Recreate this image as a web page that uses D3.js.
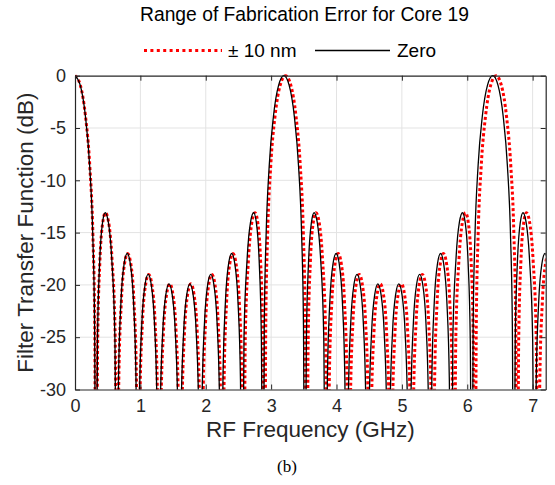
<!DOCTYPE html>
<html>
<head>
<meta charset="utf-8">
<script src="https://cdn.jsdelivr.net/npm/d3@7"></script>
<style>
  body { margin: 0; background: #fff; }
  svg { display: block; font-family: Arial, "Liberation Sans", sans-serif; }
</style>
</head>
<body>
<svg width="555" height="485"></svg>
<script>
// axis ticks
const xTicks = [0, 1, 2, 3, 4, 5, 6, 7]
const yTicks = [-30, -25, -20, -15, -10, -5, 0]

// zero fabrication error, [GHz, dB]
const zeroCurve = [
  [0, 0], [0.080, -0.9], [0.160, -3.9], [0.224, -8.6], [0.272, -15.3], [0.300, -23.9], [0.3195, -50],
  [0.344, -25.2], [0.378, -17.7], [0.420, -14.1], [0.462, -13.1], [0.510, -14.0], [0.562, -17.5], [0.610, -25.0], [0.639, -50],
  [0.665, -29.1], [0.703, -21.6], [0.751, -18.0], [0.799, -17.0], [0.847, -18.0], [0.895, -21.6], [0.933, -29.1], [0.9585, -50],
  [0.985, -31.1], [1.023, -23.6], [1.071, -20.0], [1.119, -19.0], [1.167, -20.0], [1.215, -23.6], [1.253, -31.1], [1.278, -50],
  [1.304, -32.0], [1.342, -24.5], [1.390, -20.9], [1.438, -19.9], [1.486, -20.9], [1.534, -24.5], [1.572, -32.0], [1.5975, -50],
  [1.624, -32.0], [1.662, -24.5], [1.710, -20.9], [1.758, -19.9], [1.806, -20.9], [1.854, -24.5], [1.892, -32.0], [1.917, -50],
  [1.943, -31.1], [1.981, -23.6], [2.029, -20.0], [2.077, -19.0], [2.125, -20.0], [2.173, -23.6], [2.211, -31.1], [2.2365, -50],
  [2.263, -29.1], [2.301, -21.6], [2.349, -18.0], [2.397, -17.0], [2.445, -18.0], [2.493, -21.6], [2.531, -29.1], [2.556, -50],
  [2.585, -25.0], [2.633, -17.5], [2.685, -14.0], [2.733, -13.1], [2.775, -14.1], [2.817, -17.7], [2.851, -25.2], [2.8755, -50],
  [2.895, -23.9], [2.923, -15.3], [2.971, -8.6], [3.035, -3.9], [3.115, -0.9], [3.195, 0], [3.275, -0.9], [3.355, -3.9], [3.419, -8.6], [3.467, -15.3], [3.495, -23.9], [3.5145, -50],
  [3.539, -25.2], [3.573, -17.7], [3.615, -14.1], [3.657, -13.1], [3.705, -14.0], [3.757, -17.5], [3.805, -25.0], [3.834, -50],
  [3.860, -29.1], [3.898, -21.6], [3.946, -18.0], [3.994, -17.0], [4.042, -18.0], [4.090, -21.6], [4.128, -29.1], [4.1535, -50],
  [4.180, -31.1], [4.218, -23.6], [4.266, -20.0], [4.314, -19.0], [4.362, -20.0], [4.410, -23.6], [4.448, -31.1], [4.473, -50],
  [4.499, -32.0], [4.537, -24.5], [4.585, -20.9], [4.633, -19.9], [4.681, -20.9], [4.729, -24.5], [4.767, -32.0], [4.7925, -50],
  [4.819, -32.0], [4.857, -24.5], [4.905, -20.9], [4.953, -19.9], [5.001, -20.9], [5.049, -24.5], [5.087, -32.0], [5.112, -50],
  [5.138, -31.1], [5.176, -23.6], [5.224, -20.0], [5.272, -19.0], [5.320, -20.0], [5.368, -23.6], [5.406, -31.1], [5.4315, -50],
  [5.458, -29.1], [5.496, -21.6], [5.544, -18.0], [5.592, -17.0], [5.640, -18.0], [5.688, -21.6], [5.726, -29.1], [5.751, -50],
  [5.780, -25.0], [5.828, -17.5], [5.880, -14.0], [5.928, -13.1], [5.970, -14.1], [6.012, -17.7], [6.046, -25.2], [6.0705, -50],
  [6.090, -23.9], [6.118, -15.3], [6.166, -8.6], [6.230, -3.9], [6.310, -0.9], [6.390, 0], [6.470, -0.9], [6.550, -3.9], [6.614, -8.6], [6.662, -15.3], [6.690, -23.9], [6.7095, -50],
  [6.734, -25.2], [6.768, -17.7], [6.810, -14.1], [6.852, -13.1], [6.900, -14.0], [6.952, -17.5], [7.000, -25.0], [7.029, -50],
  [7.055, -29.1], [7.093, -21.6], [7.141, -18.0], [7.189, -17.0], [7.237, -18.0], [7.285, -21.6]
]

// +-10 nm fabrication error, [GHz, dB]
const errCurve = [
  [0, 0], [0.081, -0.9], [0.161, -3.9], [0.226, -8.6], [0.274, -15.3], [0.302, -23.9], [0.322, -50],
  [0.347, -25.2], [0.381, -17.7], [0.423, -14.1], [0.466, -13.1], [0.514, -14.0], [0.566, -17.5], [0.615, -25.0], [0.644, -50],
  [0.670, -29.1], [0.709, -21.6], [0.757, -18.0], [0.805, -17.0], [0.854, -18.0], [0.902, -21.6], [0.940, -29.1], [0.966, -50],
  [0.993, -31.1], [1.031, -23.6], [1.079, -20.0], [1.128, -19.0], [1.176, -20.0], [1.225, -23.6], [1.263, -31.1], [1.288, -50],
  [1.314, -32.0], [1.353, -24.5], [1.401, -20.9], [1.449, -19.9], [1.498, -20.9], [1.546, -24.5], [1.584, -32.0], [1.610, -50],
  [1.637, -32.0], [1.675, -24.5], [1.723, -20.9], [1.772, -19.9], [1.820, -20.9], [1.869, -24.5], [1.907, -32.0], [1.932, -50],
  [1.958, -31.1], [1.997, -23.6], [2.045, -20.0], [2.093, -19.0], [2.142, -20.0], [2.190, -23.6], [2.228, -31.1], [2.254, -50],
  [2.281, -29.1], [2.319, -21.6], [2.367, -18.0], [2.416, -17.0], [2.464, -18.0], [2.513, -21.6], [2.551, -29.1], [2.576, -50],
  [2.605, -25.0], [2.654, -17.5], [2.706, -14.0], [2.754, -13.1], [2.797, -14.1], [2.839, -17.7], [2.873, -25.2], [2.898, -50],
  [2.918, -23.9], [2.946, -15.3], [2.994, -8.6], [3.059, -3.9], [3.139, -0.9], [3.220, 0], [3.301, -0.9], [3.381, -3.9], [3.446, -8.6], [3.494, -15.3], [3.522, -23.9], [3.542, -50],
  [3.567, -25.2], [3.601, -17.7], [3.643, -14.1], [3.686, -13.1], [3.734, -14.0], [3.786, -17.5], [3.835, -25.0], [3.864, -50],
  [3.890, -29.1], [3.929, -21.6], [3.977, -18.0], [4.025, -17.0], [4.074, -18.0], [4.122, -21.6], [4.160, -29.1], [4.186, -50],
  [4.213, -31.1], [4.251, -23.6], [4.299, -20.0], [4.348, -19.0], [4.396, -20.0], [4.445, -23.6], [4.483, -31.1], [4.508, -50],
  [4.534, -32.0], [4.573, -24.5], [4.621, -20.9], [4.669, -19.9], [4.718, -20.9], [4.766, -24.5], [4.804, -32.0], [4.830, -50],
  [4.857, -32.0], [4.895, -24.5], [4.943, -20.9], [4.992, -19.9], [5.040, -20.9], [5.089, -24.5], [5.127, -32.0], [5.152, -50],
  [5.178, -31.1], [5.217, -23.6], [5.265, -20.0], [5.313, -19.0], [5.362, -20.0], [5.410, -23.6], [5.448, -31.1], [5.474, -50],
  [5.501, -29.1], [5.539, -21.6], [5.587, -18.0], [5.636, -17.0], [5.684, -18.0], [5.733, -21.6], [5.771, -29.1], [5.796, -50],
  [5.825, -25.0], [5.874, -17.5], [5.926, -14.0], [5.974, -13.1], [6.017, -14.1], [6.059, -17.7], [6.093, -25.2], [6.118, -50],
  [6.138, -23.9], [6.166, -15.3], [6.214, -8.6], [6.279, -3.9], [6.359, -0.9], [6.440, 0], [6.521, -0.9], [6.601, -3.9], [6.666, -8.6], [6.714, -15.3], [6.742, -23.9], [6.762, -50],
  [6.787, -25.2], [6.821, -17.7], [6.863, -14.1], [6.906, -13.1], [6.954, -14.0], [7.006, -17.5], [7.055, -25.0], [7.084, -50],
  [7.110, -29.1], [7.149, -21.6], [7.197, -18.0], [7.245, -17.0], [7.294, -18.0]
]

const axisColor = '#262626'

let svg = d3.select('svg')
let plotL = 75, plotR = 545.7, plotT = 75.7, plotB = 389.5

let x = d3.scaleLinear().domain([0, 7.2]).range([plotL, plotR])
let y = d3.scaleLinear().domain([-30, 0]).range([plotB, plotT])

// grid
let grid = svg.append('g').attr('stroke', '#e3e3e3').attr('stroke-width', 1)
grid.selectAll('.gx').data(xTicks.filter(d => d > 0)).enter().append('line')
    .attr('x1', d => x(d)).attr('x2', d => x(d)).attr('y1', plotT).attr('y2', plotB)
grid.selectAll('.gy').data(yTicks.filter(d => d > -30 && d < 0)).enter().append('line')
    .attr('x1', plotL).attr('x2', plotR).attr('y1', d => y(d)).attr('y2', d => y(d))

svg.append('clipPath').attr('id', 'plotClip')
    .append('rect').attr('x', plotL).attr('y', plotT - 2).attr('width', plotR - plotL).attr('height', plotB - plotT + 2)

let line = d3.line()
    .x(d => x(d[0]))
    .y(d => y(d[1]))
    .curve(d3.curveMonotoneX)

let curves = svg.append('g').attr('clip-path', 'url(#plotClip)')
curves.append('path').datum(errCurve)
    .attr('d', line)
    .attr('fill', 'none')
    .attr('stroke', '#ff0000')
    .attr('stroke-width', 3)
    .attr('stroke-dasharray', '3 2.5')
curves.append('path').datum(zeroCurve)
    .attr('d', line)
    .attr('fill', 'none')
    .attr('stroke', '#000')
    .attr('stroke-width', 1.3)

// axes, ticks on all four sides pointing in
let fmt = d => String(d)
let xBottom = d3.axisBottom(x).tickValues(xTicks).tickSizeInner(-5).tickSizeOuter(0).tickPadding(10).tickFormat(fmt)
let xTop = d3.axisTop(x).tickValues(xTicks).tickSizeInner(-5).tickSizeOuter(0).tickFormat('')
let yLeft = d3.axisLeft(y).tickValues(yTicks).tickSizeInner(-5).tickSizeOuter(0).tickPadding(9).tickFormat(fmt)
let yRight = d3.axisRight(y).tickValues(yTicks).tickSizeInner(-5).tickSizeOuter(0).tickFormat('')

function styleAxis(g) {
    g.select('.domain').attr('stroke', axisColor).attr('stroke-width', 1.2)
    g.selectAll('.tick line').attr('stroke', axisColor)
    g.selectAll('.tick text').attr('fill', axisColor).style('font-size', '18px')
        .style('font-family', 'Arial, "Liberation Sans", sans-serif')
}

svg.append('g').attr('transform', `translate(0,${plotB})`).call(xBottom).call(styleAxis)
svg.append('g').attr('transform', `translate(0,${plotT})`).call(xTop).call(styleAxis)
svg.append('g').attr('transform', `translate(${plotL},0)`).call(yLeft).call(styleAxis)
svg.append('g').attr('transform', `translate(${plotR},0)`).call(yRight).call(styleAxis)

// axis labels
svg.append('text')
    .attr('x', (plotL + plotR) / 2).attr('y', 437)
    .attr('text-anchor', 'middle')
    .attr('fill', axisColor)
    .style('font-size', '22.5px')
    .text('RF Frequency (GHz)')

svg.append('text')
    .attr('transform', `translate(33,${(plotT + plotB) / 2}) rotate(-90)`)
    .attr('text-anchor', 'middle')
    .attr('fill', axisColor)
    .style('font-size', '22.5px')
    .text('Filter Transfer Function (dB)')

// title + legend
svg.append('text')
    .attr('x', 304.5).attr('y', 21)
    .attr('text-anchor', 'middle')
    .attr('fill', '#000')
    .style('font-size', '19.3px')
    .text('Range of Fabrication Error for Core 19')

svg.append('line')
    .attr('x1', 144).attr('x2', 222).attr('y1', 50.5).attr('y2', 50.5)
    .attr('stroke', '#ff0000').attr('stroke-width', 3).attr('stroke-dasharray', '3 3.4')
svg.append('text')
    .attr('x', 228).attr('y', 57)
    .attr('fill', '#000')
    .style('font-size', '19px')
    .text('± 10 nm')

svg.append('line')
    .attr('x1', 315).attr('x2', 390).attr('y1', 50.5).attr('y2', 50.5)
    .attr('stroke', '#000').attr('stroke-width', 1.3)
svg.append('text')
    .attr('x', 397).attr('y', 57)
    .attr('fill', '#000')
    .style('font-size', '19px')
    .text('Zero')

// caption
svg.append('text')
    .attr('x', 287).attr('y', 472)
    .attr('text-anchor', 'middle')
    .attr('fill', '#000')
    .style('font-family', '"Liberation Serif", "Times New Roman", serif')
    .style('font-size', '17px')
    .text('(b)')
</script>
</body>
</html>
